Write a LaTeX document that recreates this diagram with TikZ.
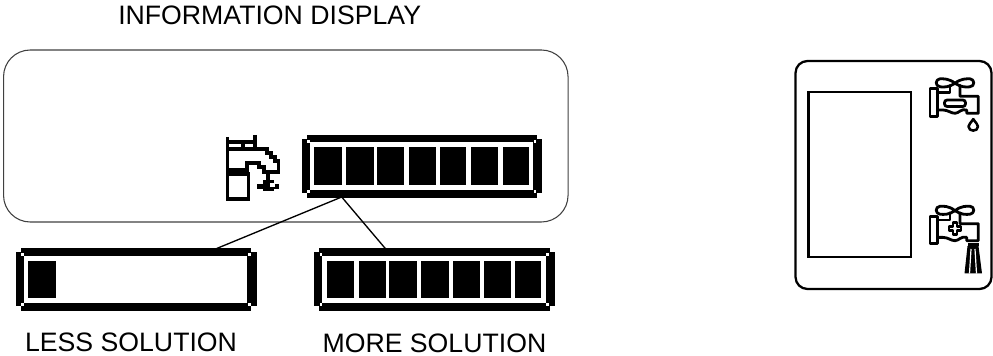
\documentclass[tikz,border=0pt]{standalone}
\usepackage{fontspec}
\setmainfont{Liberation Sans}
\tikzstyle{caption}=[anchor=base west, inner sep=0pt, font=\fontsize{20}{24}\selectfont]
\tikzstyle{outline}=[draw=black, rounded corners, fill=none, inner sep=0pt]
\tikzstyle{pixel}=[fill=black, draw=none]
\tikzstyle{tapline}=[draw=black, line width=2.1pt, line join=round, line cap=round]
\tikzstyle{bitline}=[draw=black, line width=2.7pt, line join=miter]

\newcommand{\levelbar}[3]{
	\begin{scope}[shift={(#1,#2)}]
		\fill[pixel] (5,0) rectangle (235.3,7.5);
		\fill[pixel] (5,55) rectangle (235.3,63);
		\fill[pixel] (0,4) rectangle (8,58);
		\fill[pixel] (231.3,4) rectangle (240.6,58);
		\foreach \spot/\spoty in {5.2/5, 5.2/55, 232/5, 232/55}
			\fill[white] (\spot,\spoty) rectangle +(2.6,2.6);
		\foreach \xa/\xb in {#3}
			\fill[pixel] (\xa,12.5) rectangle (\xb,50);
	\end{scope}
}

\newcommand{\faucet}[2]{
	\begin{scope}[shift={(#1,#2)}]
		\draw[tapline] (0,0) .. controls (-6,-5) and (-12,-4.5) .. (-15,-4.5) .. controls (-20,-4) and (-20,3) .. (-15,3.5) .. controls (-11,4) and (-6,4) .. (0,0);
		\draw[tapline] (0,0) .. controls (6,-5) and (12,-4.5) .. (15,-4.5) .. controls (20,-4) and (20,3) .. (15,3.5) .. controls (11,4) and (6,4) .. (0,0);
		\draw[tapline] (-25,5.5) rectangle (-17.7,33);
		\draw[tapline] (-17.7,9.3) -- (-5,9.3) -- (-5,2);
		\draw[tapline] (5,2) -- (5,13) -- (23.3,13) -- (23.3,30) -- (11.7,30) -- (11.7,26.7) .. controls (6,25) and (4,30) .. (0,30) .. controls (-4,30) and (-7,26.7) .. (-12,26.7) -- (-17.7,26.7);
	\end{scope}
}

\begin{document}
\begin{tikzpicture}[x=0.75pt, y=-0.75pt]
	\useasboundingbox (0,0) rectangle (993,356);

	\node[caption] (title) at (118,25) {INFORMATION DISPLAY};
	\node[caption] (less) at (24.8,351) {LESS SOLUTION};
	\node[caption] (more) at (322.3,352) {MORE SOLUTION};

	\node[outline, line width=0.8pt, draw=black!75, rounded corners=20pt, minimum width=564.5*0.75pt, minimum height=172*0.75pt] (display) at (285.8,136) {};
	\node[outline, line width=1.7pt, rounded corners=9pt, minimum width=196*0.75pt, minimum height=228*0.75pt] (panel) at (893.5,175) {};
	\node[outline, line width=1.6pt, sharp corners, minimum width=102.5*0.75pt, minimum height=164.5*0.75pt] (screen) at (859.8,174.5) {};

	\levelbar{301.7}{135}{12.6/40, 44.6/72, 75/102, 107/134, 138.6/164.6, 169/196.3, 201/227}
	\levelbar{16}{248.3}{12.3/39.7}
	\levelbar{314.3}{248.3}{12.7/40, 44.7/71.7, 75/102.4, 107/134.4, 139/166, 169.4/196.4, 201/226.7}

	\coordinate (joint) at (341.7,197);
	\coordinate (lessend) at (216.7,248.5);
	\coordinate (moreend) at (385.3,248.5);
	\draw[line width=1pt] (joint) -- (lessend);
	\draw[line width=1pt] (joint) -- (moreend);

	\draw[bitline] (227.5,137) -- (227.5,199) -- (248.5,199) -- (248.5,174) -- (227.5,174);
	\draw[bitline] (227.5,142) -- (255,142);
	\draw[bitline] (255,135) -- (255,149);
	\draw[bitline] (243,142) -- (243,149);
	\draw[bitline] (227.5,149) -- (267,149) -- (267,153) -- (271,153) -- (271,157) -- (275,157) -- (275,161) -- (278.5,161) -- (278.5,172) -- (264,172) -- (264,167) -- (259,167) -- (259,163) -- (247,163) -- (247,170) -- (227.5,170);
	\draw[bitline] (268,172) -- (268,181);
	\fill[pixel] (263,180) rectangle (274,191);
	\fill[pixel] (257,184) rectangle (279,189);
	\fill[white] (270,183.5) rectangle (275,187);

	\faucet{955}{83.3}
	\draw[tapline, rounded corners=2pt] (944.5,100) rectangle (965.5,106.5);
	\draw[tapline, line width=1.9pt] (973.3,119) .. controls (971,123) and (968.5,124) .. (968.5,126.5) .. controls (968.5,132) and (978,132) .. (978,126.5) .. controls (978,124) and (975.5,123) .. (973.3,119);

	\faucet{955}{210.7}
	\draw[tapline, line width=1.6pt, line join=round] (953,226.5) -- (953,222.5) -- (957,222.5) -- (957,226.5) -- (961,226.5) -- (961,230.5) -- (957,230.5) -- (957,234.5) -- (953,234.5) -- (953,230.5) -- (949,230.5) -- (949,226.5) -- cycle;
	\fill[pixel] (967.5,243) rectangle (978.5,246);
	\fill[pixel] (967.5,246) -- (978.5,246) -- (982,273.5) -- (964.5,273.5) -- cycle;
	\foreach \xa/\xb in {971/969.5, 975/976.5}
		\draw[white, line width=0.9pt] (\xa,249) -- (\xb,273.5);
\end{tikzpicture}
\end{document}
